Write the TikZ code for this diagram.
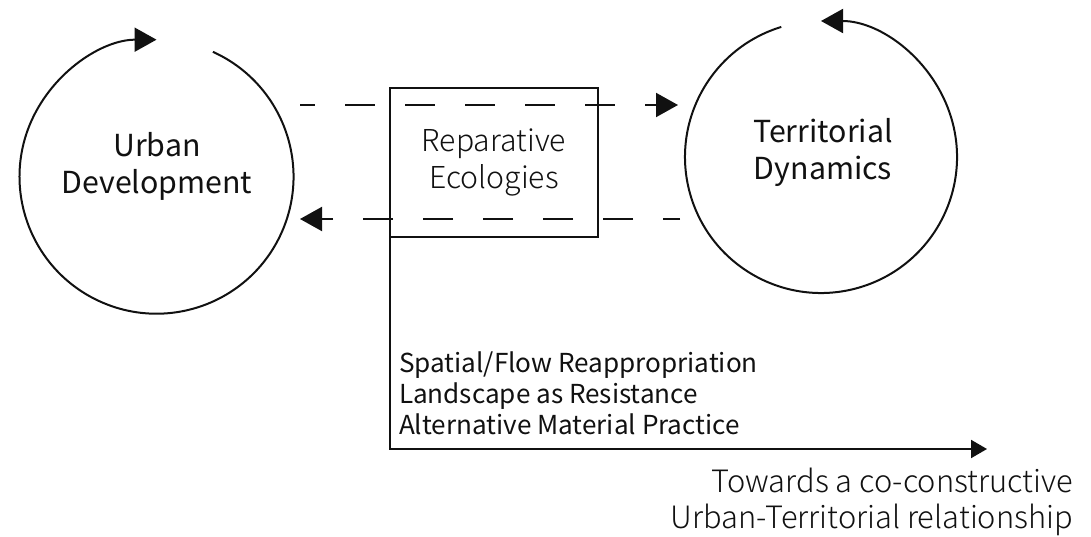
\documentclass[tikz,border=0pt]{standalone}
\usepackage{fontspec}
\usepackage{tikz}
\usetikzlibrary{arrows.meta, positioning, calc}
\setmainfont{Noto Sans CJK SC}
\newfontfamily\lightfont{Noto Sans CJK SC Light}
\definecolor{InkBlack}{HTML}{111111}

\begin{document}
\begin{tikzpicture}[x=1pt, y=1pt, line width=2pt, draw=InkBlack, text=InkBlack,
    cycle/.style={circle, minimum size=274pt, inner sep=0pt, outer sep=0pt},
    cyclelabel/.style={align=center, font=\fontsize{30.3}{37}\selectfont},
    loopback/.style={-{Triangle[length=22pt, width=24pt]}},
    flow/.style={dash pattern=on 30pt off 30pt, -{Triangle[length=22pt, width=24pt]}}]
\useasboundingbox (0,0) rectangle (1091,536);

\node[cycle] (urbanloop) at (155,360) {};
\node[cycle, minimum size=272pt] (territorialloop) at (821,379) {};
\node[cyclelabel] (urban) at (157,370) {Urban\\Development};
\node[cyclelabel] (territorial) at (823,384) {Territorial\\Dynamics};
\draw[loopback] (urbanloop.65.7) arc[start angle=65.7, end angle=-270, radius=137pt];
\draw[loopback] (territorialloop.107) arc[start angle=107, end angle=450, radius=136pt];

\node[draw, minimum width=208pt, minimum height=149pt, outer sep=0pt, align=center,
      font=\lightfont\fontsize{30.2}{37}\selectfont] (repair) at (494,373.5) {Reparative\\Ecologies};

\coordinate (topstart) at (300,431);
\coordinate (topend) at (678,431);
\coordinate (botstart) at (680,317);
\coordinate (botend) at (300,317);
\draw[flow, dash phase=15pt] (topstart) -- (topend);
\draw[flow, dash phase=13pt] (botstart) -- (botend);

\coordinate (corner) at (repair.south west |- 0,87);
\coordinate (outcome) at (987,87);
\draw[-{Triangle[length=16pt, width=18pt]}] (repair.south west) -- (corner) -- (outcome);

\node[anchor=west, align=left, inner sep=0pt, font=\fontsize{26.1}{31}\selectfont]
    (practices) at (398,143) {Spatial/Flow Reappropriation\\Landscape as Resistance\\Alternative Material Practice};
\node[anchor=east, align=right, inner sep=0pt, font=\lightfont\fontsize{30.8}{36}\selectfont]
    (towards) at (1074,34) {Towards a co-constructive\\Urban-Territorial relationship};
\end{tikzpicture}
\end{document}
